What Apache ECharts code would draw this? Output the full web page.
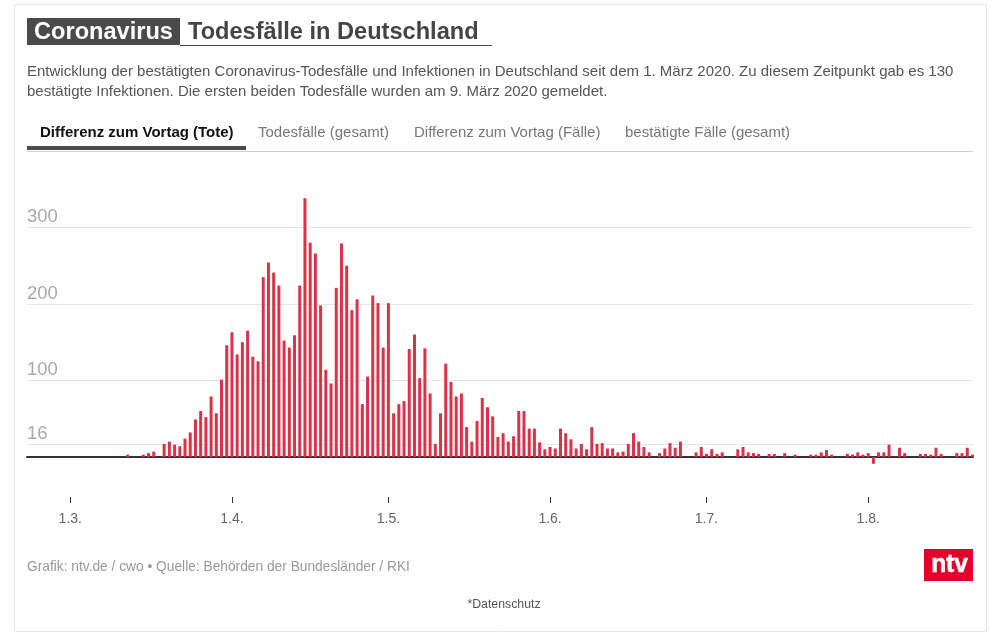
<!DOCTYPE html>
<html><head><meta charset="utf-8">
<style>html,body{margin:0;padding:0;background:#fff}#c{width:991px;height:636px}</style>
<script src="https://cdn.jsdelivr.net/npm/echarts@6/dist/echarts.min.js"></script>
</head><body><div id="c"></div>
<script>
// x positions are days since 1 March 2020
const firstDay = 11;
const deaths = [3,0,0,3,5,7,0,17,20,16,14,24,32,49,60,52,79,57,101,146,163,134,150,165,131,125,235,254,241,224,152,143,159,224,338,280,266,198,114,96,221,279,250,192,206,69,105,211,201,143,201,57,69,73,141,160,103,142,83,17,57,122,98,79,83,39,20,47,77,65,53,26,31,20,27,60,60,37,37,19,10,13,11,37,31,23,11,17,10,39,17,18,11,11,6,7,17,31,20,13,6,0,5,11,18,12,20,0,0,6,13,4,10,4,6,0,0,10,13,6,5,4,0,4,4,0,5,0,3,0,0,3,3,6,9,3,0,0,4,3,6,3,5,-9,6,6,16,0,12,5,0,0,4,4,3,12,4,0,0,5,5,12,3];
const xTicks = [0,31,61,92,122,153];
const xTickLabels = ['1.3.','1.4.','1.5.','1.6.','1.7.','1.8.'];
const yTicks = [16,100,200,300];
const tabs = ['Differenz zum Vortag (Tote)','Todesfälle (gesamt)','Differenz zum Vortag (Fälle)','bestätigte Fälle (gesamt)'];
const tabX = [40,258,414,625];
const descLines = ['Entwicklung der bestätigten Coronavirus-Todesfälle und Infektionen in Deutschland seit dem 1. März 2020. Zu diesem Zeitpunkt gab es 130','bestätigte Infektionen. Die ersten beiden Todesfälle wurden am 9. März 2020 gemeldet.'];

const FONT = '"Liberation Sans", Arial, sans-serif';
const xMin = -8.3, xMax = 173.1;
const points = deaths.map((v, i) => [firstDay + i, v]);
const labelOf = v => { const i = xTicks.indexOf(+v); return i >= 0 ? xTickLabels[i] : ''; };
const txt = (x, y, text, size, fill, weight, align) => ({type:'text', silent:true, style:{x, y, text, fontSize:size, fill, fontWeight:weight||'normal', fontFamily:FONT, align:align||'left', verticalAlign:'middle'}});
const rect = (x, y, w, h, fill, stroke) => ({type:'rect', silent:true, shape:{x, y, width:w, height:h}, style: stroke ? {fill:'none', stroke, lineWidth:1} : {fill}});

const graphics = [
  rect(14.5,4.5,972,627,null,'#e3e8ee'),
  rect(27,18,153,27,'#4a4a4a'),
  rect(180,45,312,1,'#4a4a4a'),
  txt(34,32,'Coronavirus',23.6,'#fff','bold'),
  txt(188,32,'Todesfälle in Deutschland',23.6,'#444','bold'),
  txt(27,71.5,descLines[0],15,'#555'),
  txt(27,91.5,descLines[1],15,'#555'),
  rect(27,146,219,4,'#4a4a4a'),
  rect(27,151,946,1,'#ccc'),
  txt(27,567,'Grafik: ntv.de / cwo • Quelle: Behörden der Bundesländer / RKI',13.75,'#999'),
  txt(504,605,'*Datenschutz',12.3,'#555','normal','center'),
  rect(924,549,49,32,'#e4002b'),
  {type:'text', silent:true, x:949.5, y:565, scaleX:0.98, style:{x:0, y:0, text:'ntv', fontSize:25, fill:'#fff', stroke:'#fff', lineWidth:0.6, fontWeight:'bold', fontFamily:FONT, align:'center', verticalAlign:'middle'}}
];
tabs.forEach((t,i) => graphics.push(txt(tabX[i],133,t,15,i===0?'#111':'#777',i===0?'bold':'normal')));

const chart = echarts.init(document.getElementById('c'), null, {renderer:'canvas', width:991, height:636});
chart.setOption({
  animation:false,
  backgroundColor:'#fff',
  textStyle:{fontFamily:FONT},
  grid:{left:27, top:180, width:946, height:317, containLabel:false},
  xAxis:[{
    type:'value', min:xMin, max:xMax, position:'bottom',
    axisLine:{show:false, onZero:false},
    axisTick:{show:true, length:6, customValues:xTicks, lineStyle:{color:'#333', width:1}},
    axisLabel:{show:true, customValues:xTicks, margin:15, fontSize:14, color:'#666', fontFamily:FONT, formatter:labelOf},
    splitLine:{show:false}
  },{
    type:'value', min:xMin, max:xMax, position:'top',
    axisLine:{show:true, onZero:true, lineStyle:{color:'#333', width:2}},
    axisTick:{show:false}, axisLabel:{show:false}, splitLine:{show:false}
  }],
  yAxis:{
    type:'value', min:-52.4, max:362,
    axisLine:{show:false},
    axisTick:{show:false, customValues:yTicks},
    axisLabel:{inside:true, customValues:yTicks, margin:0, fontSize:18.5, color:'#aaa', fontFamily:FONT, verticalAlign:'bottom', padding:[0,0,1,0]},
    splitLine:{show:true, lineStyle:{color:'#e6e6e6', width:1}}
  },
  series:[{type:'bar', xAxisIndex:0, data:points, barWidth:3, itemStyle:{color:'#d93349'}}],
  graphic:{elements:graphics}
});
</script></body></html>
